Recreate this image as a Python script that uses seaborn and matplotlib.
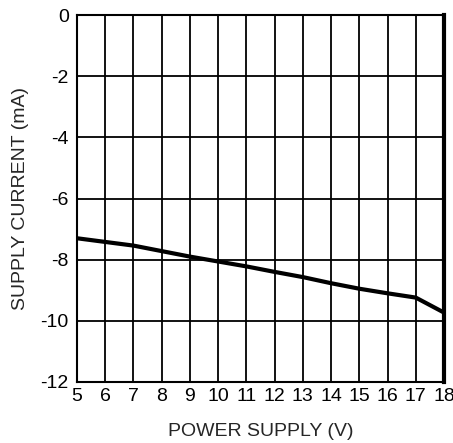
import matplotlib
matplotlib.use("Agg")
import matplotlib.pyplot as plt
import seaborn as sns
import pandas as pd

supply_v = [5, 6, 7, 8, 9, 10, 11, 12, 13, 14, 15, 16, 17, 18]
current_ma = [-7.30, -7.42, -7.54, -7.72, -7.90, -8.06, -8.22, -8.40,
              -8.57, -8.77, -8.95, -9.10, -9.24, -9.73]
x_ticks = list(range(5, 19))
y_ticks = [0, -2, -4, -6, -8, -10, -12]

df = pd.DataFrame({"v": supply_v, "i": current_ma})

sns.set_style("white")
plt.rcParams['font.family'] = ['Liberation Sans', 'DejaVu Sans']
plt.rcParams['axes.unicode_minus'] = False

fig = plt.figure(figsize=(4.53, 4.43), dpi=100)
ax = fig.add_axes([77 / 453, 1 - 382 / 443, 367 / 453, 367 / 443])

sns.lineplot(data=df, x="v", y="i", color="black", linewidth=3, ax=ax)

ax.set_xlim(5, 18)
ax.set_ylim(-12, 0)
ax.set_xticks(x_ticks)
ax.set_yticks(y_ticks)
ax.grid(True, color="black", linewidth=1.3)
ax.set_axisbelow(True)
for s in ax.spines.values():
    s.set_color("black")
    s.set_linewidth(1.5)
ax.spines["right"].set_linewidth(3)

ax.tick_params(axis="both", length=0, labelsize=14, colors="black")
ax.tick_params(axis="x", pad=4)
ax.tick_params(axis="y", pad=6)
ax.set_xlabel("POWER SUPPLY (V)", fontsize=14, labelpad=13)
ax.set_ylabel("SUPPLY CURRENT (mA)", fontsize=14, labelpad=8)

fig.savefig("out.png", dpi=100)
